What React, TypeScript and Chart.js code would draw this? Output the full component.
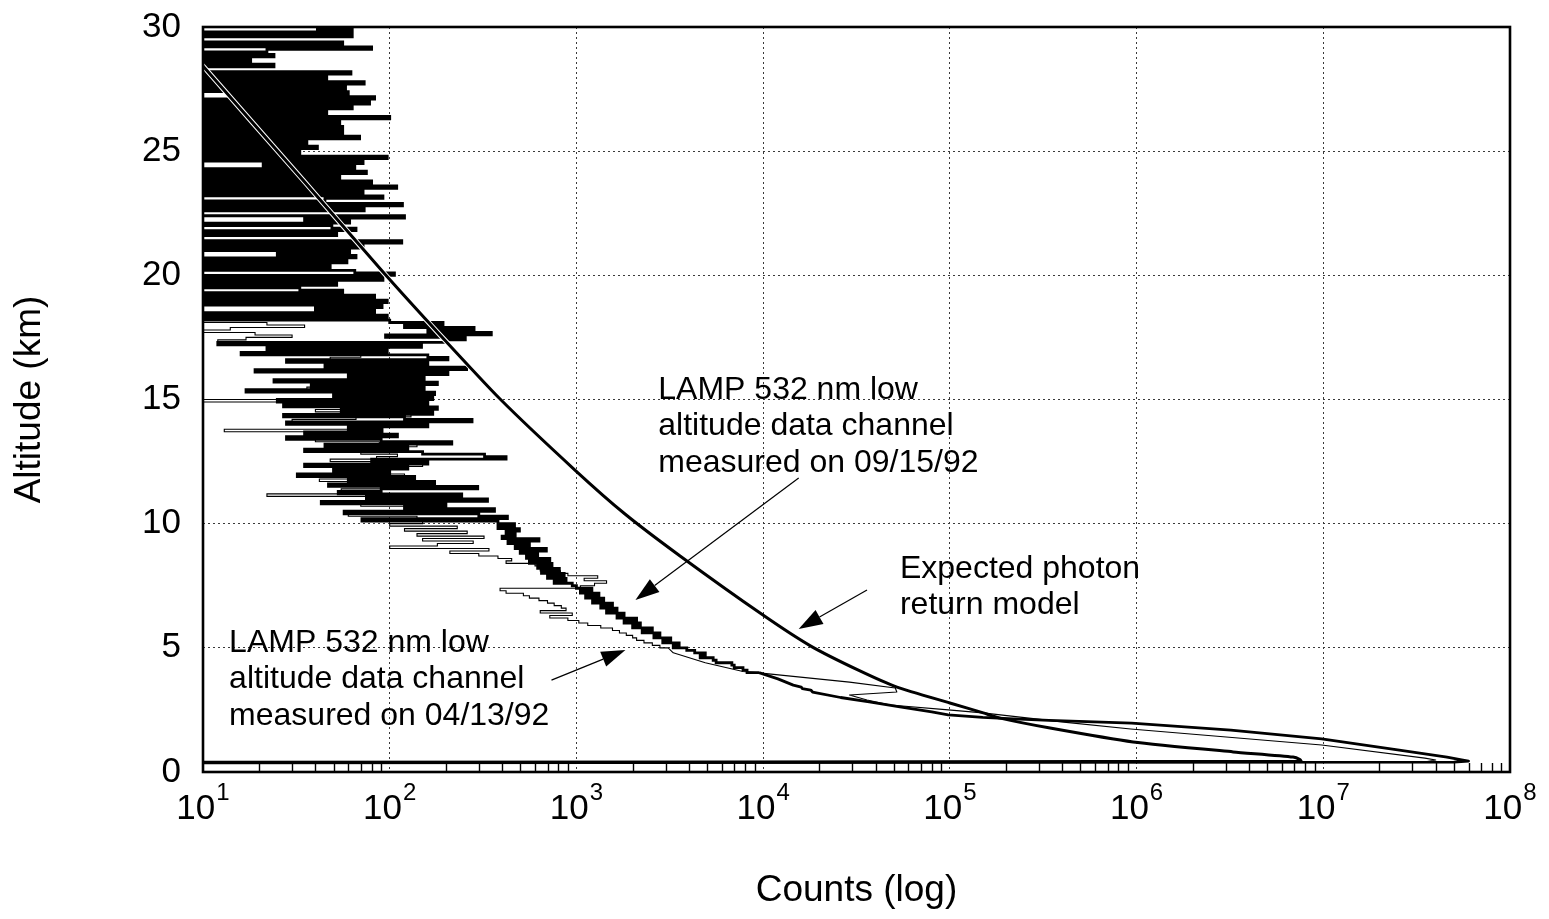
import { useEffect, useRef } from 'react';
import { Chart, registerables } from 'chart.js';

Chart.register(...registerables);

const FONT = '"Liberation Sans", Arial, Helvetica, sans-serif';

// Axis ticks
const X_TICKS = [10, 100, 1e3, 1e4, 1e5, 1e6, 1e7, 1e8];
const X_EXPONENTS = ['1', '2', '3', '4', '5', '6', '7', '8'];
const X_MINOR_MULTIPLIERS = [2, 3, 4, 5, 6, 7, 8, 9];
const Y_TICKS = [0, 5, 10, 15, 20, 25, 30];

// Expected photon return model: [altitude km, counts]
const MODEL: [number, number][] = [
  [30, 6.7], [28.39, 10.1], [23.84, 34.3], [20.13, 92.1], [17.6, 186], [15.02, 390], [12.16, 982],
  [10.39, 1820], [8.7, 3590], [6.32, 9980], [5.07, 18000], [4.07, 33000], [3.42, 52100],
  [2.78, 100000], [2.38, 151000], [2.17, 186000], [1.77, 344000], [1.21, 957000], [0.81, 3.29e6],
  [0.6, 6.89e6], [0.5, 7.5e6], [0.43, 7.6e6], [0.39, 5],
];

// LAMP 532 nm, measured 09/15/92 – noisy upper part (range bins): [altitude km, counts]
const LAMP_0915_NOISY: [number, number][] = [
  [30.0, 41], [29.9, 63], [29.8, 9], [29.7, 63], [29.6, 7], [29.5, 5], [29.4, 56], [29.3, 8], [29.2, 80], [29.1, 22],
  [29.0, 6], [28.9, 24], [28.8, 5], [28.7, 18], [28.6, 6], [28.5, 24], [28.4, 8], [28.3, 7], [28.2, 62], [28.1, 8],
  [28.0, 46], [27.9, 6], [27.8, 73], [27.7, 7], [27.6, 58], [27.5, 9], [27.4, 60], [27.3, 14], [27.2, 83], [27.1, 8],
  [27.0, 78], [26.9, 6], [26.8, 63], [26.7, 7], [26.6, 46], [26.5, 8], [26.4, 100], [26.3, 6], [26.2, 54], [26.1, 9],
  [26.0, 56], [25.9, 8], [25.8, 56], [25.7, 5], [25.6, 69], [25.5, 7], [25.4, 36], [25.3, 9], [25.2, 41], [25.1, 6],
  [25.0, 33],
  [24.9, 7], [24.8, 97], [24.7, 8], [24.6, 72], [24.5, 21], [24.4, 65], [24.3, 7], [24.2, 75], [24.1, 6], [24.0, 54],
  [23.9, 9], [23.8, 80], [23.7, 6], [23.6, 109], [23.5, 8], [23.4, 72], [23.3, 8], [23.2, 92], [23.1, 45], [23.0, 7],
  [22.9, 117], [22.8, 7], [22.7, 73], [22.6, 5], [22.5, 6], [22.4, 120], [22.3, 35], [22.2, 61], [22.1, 8], [22.0, 49],
  [21.9, 66], [21.8, 9], [21.7, 52], [21.6, 6], [21.5, 7], [21.4, 116], [21.3, 8], [21.2, 72], [21.1, 6], [21.0, 61],
  [20.9, 25], [20.8, 66], [20.7, 8], [20.6, 59], [20.5, 6], [20.4, 48], [20.3, 7], [20.2, 65], [20.1, 106], [20.0, 9],
  [19.9, 92], [19.8, 8], [19.7, 52], [19.6, 7], [19.5, 33], [19.4, 56], [19.3, 7], [19.2, 83], [19.1, 6], [19.0, 97],
  [18.9, 9], [18.8, 91], [18.7, 40], [18.6, 83], [18.5, 8], [18.4, 97], [18.3, 6], [18.2, 100], [18.1, 193], [18.0, 120],
  [17.9, 283], [17.8, 160], [17.7, 350], [17.6, 95], [17.5, 254], [17.4, 197], [17.3, 12], [17.2, 148], [17.1, 22], [17.0, 97],
  [16.9, 16], [16.8, 160], [16.7, 205], [16.6, 28], [16.5, 160], [16.4, 45], [16.3, 258], [16.2, 19], [16.1, 205], [16.0, 60],
  [15.9, 153], [15.8, 24], [15.7, 180], [15.6, 38], [15.5, 153], [15.4, 17], [15.3, 174], [15.2, 50], [15.1, 170], [15.0, 25],
  [14.9, 160], [14.8, 27], [14.7, 180], [14.6, 55], [14.5, 170], [14.4, 27], [14.3, 120], [14.2, 276], [14.1, 28], [14.0, 160],
  [13.9, 60], [13.8, 91], [13.7, 35], [13.6, 110], [13.5, 28], [13.4, 90], [13.3, 215], [13.2, 45], [13.1, 125], [13.0, 35],
  [12.9, 150], [12.8, 322], [12.7, 420], [12.6, 80], [12.5, 160], [12.4, 35], [12.3, 125], [12.2, 50], [12.1, 100], [12.0, 32],
  [11.9, 136], [11.8, 60], [11.7, 174], [11.6, 47], [11.5, 296], [11.4, 90], [11.3, 53], [11.2, 243], [11.1, 75], [11.0, 334],
  [10.9, 43], [10.8, 200], [10.7, 120], [10.6, 364], [10.5, 57], [10.4, 300], [10.3, 427], [10.2, 71], [10.1, 380], [10.0, 466],
  [9.9, 380], [9.8, 495], [9.7, 420], [9.6, 470], [9.5, 400], [9.4, 630], [9.3, 430], [9.2, 560], [9.1, 470], [9.0, 690],
  [8.9, 500], [8.8, 620], [8.7, 540], [8.6, 720], [8.5, 560], [8.4, 740], [8.3, 620], [8.2, 810], [8.1, 650], [8.0, 860],
  [7.9, 700], [7.8, 880], [7.7, 760], [7.6, 950], [7.5, 1000], [7.4, 1210], [7.3, 1050], [7.2, 1320], [7.1, 1120], [7.0, 1400],
  [6.9, 1220], [6.8, 1560], [6.7, 1350], [6.6, 1650], [6.5, 1450], [6.4, 1800], [6.3, 1650], [6.2, 2100], [6.1, 1800], [6.0, 2200],
  [5.9, 2000], [5.8, 2550], [5.7, 2250], [5.6, 2800], [5.5, 2600], [5.4, 3200], [5.3, 2900], [5.2, 3550], [5.1, 3300], [5.0, 3900],
  [4.9, 4300], [4.8, 4900], [4.7, 4600], [4.6, 5400], [4.5, 5600], [4.4, 6800], [4.3, 7000], [4.2, 7800], [4.1, 8200], [4.0, 9500],
];

// LAMP 532 nm, measured 09/15/92 – lower part
const LAMP_0915_LOW: [number, number][] = [
  [4.0, 9500], [3.75, 12000], [3.5, 14500], [3.42, 16000], [3.36, 16200], [3.3, 18000], [3.22, 18400],
  [3.0, 26000], [2.82, 37000], [2.62, 54000], [2.42, 80000], [2.3, 98000], [2.2, 150000], [2.14, 220000],
  [2.08, 340000], [1.97, 940000], [1.69, 3.2e6], [1.33, 9.8e6], [0.89, 2.5e7], [0.6, 4.6e7], [0.48, 5.6e7],
  [0.44, 6.0e7], [0.4, 5.0e7], [0.37, 5],
];

// LAMP 532 nm, measured 04/13/92 – noisy upper part
const LAMP_0413_NOISY: [number, number][] = [
  [18.2, 10], [18.1, 22], [18.0, 35], [17.9, 14], [17.8, 8], [17.7, 19], [17.6, 30], [17.5, 17], [17.4, 12], [17.3, 28],
  [17.2, 40], [17.1, 33], [17.0, 22], [16.9, 45], [16.8, 70], [16.7, 48], [16.6, 30], [16.5, 62], [16.4, 95], [16.3, 52],
  [16.2, 25], [16.1, 70], [16.0, 110], [15.9, 65], [15.8, 40], [15.7, 58], [15.6, 85], [15.5, 36], [15.4, 18], [15.3, 75],
  [15.2, 120], [15.1, 55], [15.0, 10], [14.9, 45], [14.8, 90], [14.7, 72], [14.6, 40], [14.5, 95], [14.4, 130], [14.3, 66],
  [14.2, 30], [14.1, 58], [14.0, 100], [13.9, 82], [13.8, 13], [13.7, 50], [13.6, 80], [13.5, 62], [13.4, 40], [13.3, 88],
  [13.2, 140], [13.1, 92], [13.0, 45], [12.9, 70], [12.8, 110], [12.7, 85], [12.6, 48], [12.5, 96], [12.4, 150], [12.3, 105],
  [12.2, 60], [12.1, 88], [12.0, 120], [11.9, 78], [11.8, 42], [11.7, 95], [11.6, 160], [11.5, 110], [11.4, 55], [11.3, 80],
  [11.2, 22], [11.1, 95], [11.0, 140], [10.9, 105], [10.8, 70], [10.7, 120], [10.6, 180], [10.5, 130], [10.4, 60], [10.3, 140],
  [10.2, 200], [10.1, 150],
  [10.0, 100], [9.9, 230], [9.8, 120], [9.7, 260], [9.6, 140], [9.5, 320], [9.4, 150], [9.3, 280], [9.2, 180], [9.1, 100],
  [9.0, 340], [8.9, 210], [8.8, 300], [8.7, 380], [8.6, 450], [8.5, 420], [8.4, 600], [8.3, 690], [8.2, 640], [8.1, 820],
  [8.0, 900], [7.9, 1300], [7.8, 1100], [7.7, 1450], [7.6, 1250], [7.5, 1050], [7.4, 390], [7.3, 420], [7.2, 520], [7.1, 560],
  [7.0, 630], [6.9, 700], [6.8, 760], [6.7, 830], [6.6, 880], [6.5, 640], [6.4, 950], [6.3, 720], [6.2, 900], [6.1, 1030],
  [6.0, 1150], [5.9, 1350], [5.8, 1560], [5.7, 1700], [5.6, 1850], [5.5, 2000], [5.4, 2100], [5.3, 2300], [5.2, 2550], [5.1, 2800],
  [5.0, 3100],
];

// LAMP 532 nm, measured 04/13/92 – lower part
const LAMP_0413_LOW: [number, number][] = [
  [5.0, 3100], [4.8, 3300], [4.4, 4900], [4.05, 7800], [4.0, 9200], [3.62, 29000], [3.38, 51000], [3.22, 52000],
  [3.1, 29000], [2.9, 36000], [2.7, 48000], [2.5, 98000], [2.38, 150000], [2.0, 420000], [1.73, 930000],
  [1.09, 9.8e6], [0.56, 3.5e7], [0.48, 4.0e7], [0.42, 3.6e7], [0.39, 5],
];

// Annotation texts
const LABEL_0915 = ['LAMP 532 nm low', 'altitude data channel', 'measured on 09/15/92'];
const LABEL_MODEL = ['Expected photon', 'return model'];
const LABEL_0413 = ['LAMP 532 nm low', 'altitude data channel', 'measured on 04/13/92'];

// Annotation placement (data coordinates: x = counts, y = altitude)
const ANNOTATIONS = [
  { lines: LABEL_0915, at: { x: 2745, y: 15.38 } },
  { lines: LABEL_MODEL, at: { x: 54040, y: 8.17 } },
  { lines: LABEL_0413, at: { x: 13.8, y: 5.19 } },
];
const ARROWS = [
  { from: { x: 15500, y: 11.84 }, to: { x: 2070, y: 6.93 } },
  { from: { x: 36000, y: 7.33 }, to: { x: 15500, y: 5.76 } },
  { from: { x: 735, y: 3.7 }, to: { x: 1830, y: 4.91 } },
];

const toPoints = (rows: [number, number][]) => rows.map(([alt, c]) => ({ x: c, y: alt }));

const decorPlugin = {
  id: 'decor',
  afterDatasetsDraw(chart: any) {
    const { ctx, chartArea: a, scales } = chart;
    const xs = scales.x;
    const ys = scales.y;
    ctx.save();
    // inward minor ticks on the bottom axis
    ctx.strokeStyle = '#000';
    ctx.lineWidth = 1.4;
    ctx.beginPath();
    for (let d = 0; d < X_TICKS.length - 1; d++) {
      for (const m of X_MINOR_MULTIPLIERS) {
        const px = Math.round(xs.getPixelForValue(X_TICKS[d] * m)) + 0.5;
        ctx.moveTo(px, a.bottom);
        ctx.lineTo(px, a.bottom - 9);
      }
    }
    ctx.stroke();
    // frame
    ctx.lineWidth = 2.6;
    ctx.strokeRect(a.left, a.top, a.right - a.left, a.bottom - a.top);

    // arrows
    ctx.fillStyle = '#000';
    ctx.lineWidth = 1.2;
    for (const ar of ARROWS) {
      const x1 = xs.getPixelForValue(ar.from.x);
      const y1 = ys.getPixelForValue(ar.from.y);
      const x2 = xs.getPixelForValue(ar.to.x);
      const y2 = ys.getPixelForValue(ar.to.y);
      const ang = Math.atan2(y2 - y1, x2 - x1);
      const len = 24;
      const half = 8;
      const bx = x2 - len * Math.cos(ang);
      const by = y2 - len * Math.sin(ang);
      ctx.beginPath();
      ctx.moveTo(x1, y1);
      ctx.lineTo(bx, by);
      ctx.stroke();
      ctx.beginPath();
      ctx.moveTo(x2, y2);
      ctx.lineTo(bx + half * Math.sin(ang), by - half * Math.cos(ang));
      ctx.lineTo(bx - half * Math.sin(ang), by + half * Math.cos(ang));
      ctx.closePath();
      ctx.fill();
    }
    // annotation texts
    ctx.font = `32px ${FONT}`;
    ctx.textAlign = 'left';
    ctx.textBaseline = 'middle';
    for (const an of ANNOTATIONS) {
      const px = xs.getPixelForValue(an.at.x);
      const py = ys.getPixelForValue(an.at.y);
      an.lines.forEach((t, i) => ctx.fillText(t, px, py + i * 36.5));
    }
    ctx.restore();
  },
  afterDraw(chart: any) {
    const { ctx, chartArea: a, scales } = chart;
    const xs = scales.x;
    ctx.save();
    ctx.fillStyle = '#000';
    ctx.textBaseline = 'alphabetic';
    ctx.textAlign = 'left';
    X_TICKS.forEach((v, i) => {
      const px = xs.getPixelForValue(v);
      ctx.font = `35px ${FONT}`;
      const wb = ctx.measureText('10').width;
      ctx.font = `24px ${FONT}`;
      const we = ctx.measureText(X_EXPONENTS[i]).width;
      const left = px - (wb + we + 1) / 2;
      ctx.font = `35px ${FONT}`;
      ctx.fillText('10', left, a.bottom + 47);
      ctx.font = `24px ${FONT}`;
      ctx.fillText(X_EXPONENTS[i], left + wb + 1, a.bottom + 28);
    });
    ctx.restore();
  },
};

export default function App() {
  const ref = useRef<HTMLCanvasElement | null>(null);
  useEffect(() => {
    if (!ref.current) return;
    const gridStyle = { color: '#3a3a3a', lineWidth: 1, drawTicks: false };
    const chart = new Chart(ref.current, {
      type: 'line',
      data: {
        datasets: [
          {
            label: 'Expected photon return model',
            data: toPoints(MODEL),
            borderColor: '#000',
            borderWidth: 3,
            pointRadius: 0,
            tension: 0.2,
            borderJoinStyle: 'round',
            clip: 0,
            order: 0,
          },
          {
            label: 'model halo',
            data: toPoints(MODEL.filter(([alt]) => alt >= 14)),
            borderColor: '#fff',
            borderWidth: 5,
            pointRadius: 0,
            tension: 0.2,
            clip: 0,
            order: 1,
          },
          {
            label: '09/15/92 low',
            data: toPoints(LAMP_0915_LOW),
            borderColor: '#000',
            borderWidth: 2.8,
            pointRadius: 0,
            borderJoinStyle: 'round',
            clip: 0,
            order: 3,
          },
          {
            label: '09/15/92 noisy',
            data: toPoints(LAMP_0915_NOISY),
            borderColor: '#000',
            borderWidth: 2.8,
            pointRadius: 0,
            stepped: 'after',
            clip: 0,
            order: 4,
          },
          {
            label: '04/13/92 low',
            data: toPoints(LAMP_0413_LOW),
            borderColor: '#000',
            borderWidth: 1.1,
            pointRadius: 0,
            borderJoinStyle: 'round',
            clip: 0,
            order: 2,
          },
          {
            label: '04/13/92 noisy',
            data: toPoints(LAMP_0413_NOISY),
            borderColor: '#000',
            borderWidth: 1.1,
            pointRadius: 0,
            stepped: 'after',
            clip: 0,
            order: 2,
          },
        ],
      },
      options: {
        animation: false,
        responsive: true,
        maintainAspectRatio: false,
        layout: { padding: { left: 0, right: 39, top: 27, bottom: 0 } },
        plugins: {
          legend: { display: false },
          tooltip: { enabled: false },
          title: { display: false },
        },
        scales: {
          x: {
            type: 'logarithmic',
            min: 10,
            max: 1e8,
            position: 'bottom',
            afterBuildTicks: (s: any) => {
              s.ticks = X_TICKS.map((v) => ({ value: v }));
            },
            afterFit: (s: any) => {
              s.height = 147;
              s.paddingLeft = 0;
              s.paddingRight = 0;
            },
            ticks: { display: false },
            grid: gridStyle,
            border: { display: false, dash: [2, 3] },
            title: {
              display: true,
              text: 'Counts (log)',
              color: '#000',
              font: { family: FONT, size: 37 },
              padding: { top: 0, bottom: 6 },
            },
          },
          y: {
            type: 'linear',
            min: 0,
            max: 30,
            position: 'left',
            afterBuildTicks: (s: any) => {
              s.ticks = Y_TICKS.map((v) => ({ value: v }));
            },
            afterFit: (s: any) => {
              s.width = 203;
              s.paddingTop = 0;
              s.paddingBottom = 0;
            },
            ticks: { color: '#000', font: { family: FONT, size: 35 }, padding: 22 },
            grid: gridStyle,
            border: { display: false, dash: [2, 3] },
            title: {
              display: true,
              text: 'Altitude (km)',
              color: '#000',
              font: { family: FONT, size: 37 },
              padding: { top: 8, bottom: 0 },
            },
          },
        },
      } as any,
      plugins: [decorPlugin],
    });
    return () => chart.destroy();
  }, []);

  return (
    <div style={{ position: 'fixed', left: 0, top: 0, width: '1549px', height: '919px', background: '#fff' }}>
      <canvas ref={ref} style={{ display: 'block' }} />
    </div>
  );
}
